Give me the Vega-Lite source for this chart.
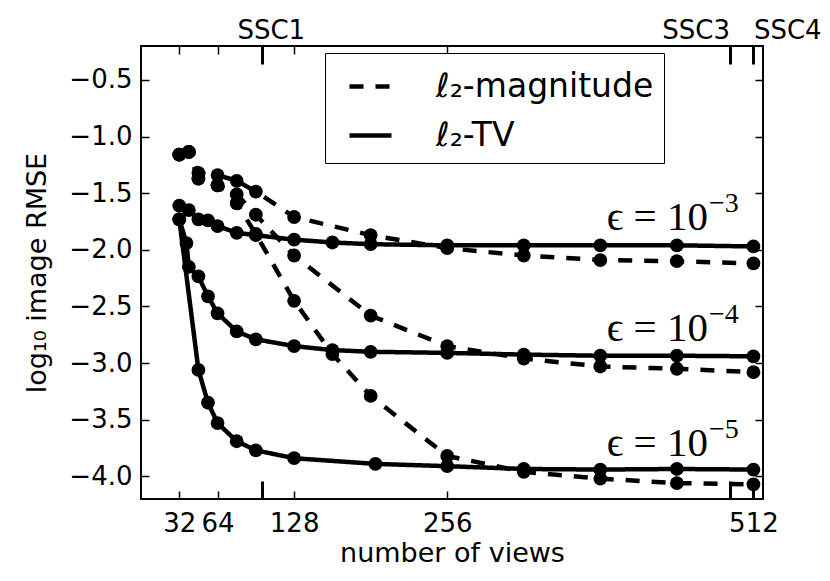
{
  "$schema": "https://vega.github.io/schema/vega-lite/v6.json",
  "description": "RMSE against number of views, l2-magnitude vs l2-TV",
  "width": 622,
  "height": 453,
  "autosize": {"type": "none"},
  "padding": {"left": 141, "top": 46, "right": 67, "bottom": 82},
  "config": {
    "font": "DejaVu Sans",
    "view": {"stroke": "black", "strokeWidth": 2},
    "axis": {
      "domain": false,
      "grid": false,
      "tickColor": "black",
      "tickWidth": 1.5,
      "labelColor": "black",
      "titleColor": "black",
      "labelFont": "DejaVu Sans",
      "titleFont": "DejaVu Sans",
      "labelFontSize": 26,
      "titleFontSize": 27,
      "titleFontWeight": "normal",
      "labelOverlap": false,
      "labelFlush": false
    }
  },
  "datasets": {
    "runs": [
      {"m": "ℓ₂-magnitude", "eps": "1e-3", "views": 32, "rmse": -1.16},
      {"m": "ℓ₂-magnitude", "eps": "1e-3", "views": 40, "rmse": -1.135},
      {"m": "ℓ₂-magnitude", "eps": "1e-3", "views": 48, "rmse": -1.32},
      {"m": "ℓ₂-magnitude", "eps": "1e-3", "views": 64, "rmse": -1.34},
      {"m": "ℓ₂-magnitude", "eps": "1e-3", "views": 80, "rmse": -1.39},
      {"m": "ℓ₂-magnitude", "eps": "1e-3", "views": 96, "rmse": -1.485},
      {"m": "ℓ₂-magnitude", "eps": "1e-3", "views": 128, "rmse": -1.71},
      {"m": "ℓ₂-magnitude", "eps": "1e-3", "views": 192, "rmse": -1.87},
      {"m": "ℓ₂-magnitude", "eps": "1e-3", "views": 256, "rmse": -1.985},
      {"m": "ℓ₂-magnitude", "eps": "1e-3", "views": 320, "rmse": -2.05},
      {"m": "ℓ₂-magnitude", "eps": "1e-3", "views": 384, "rmse": -2.09},
      {"m": "ℓ₂-magnitude", "eps": "1e-3", "views": 448, "rmse": -2.10},
      {"m": "ℓ₂-magnitude", "eps": "1e-3", "views": 512, "rmse": -2.12},
      {"m": "ℓ₂-magnitude", "eps": "1e-4", "views": 32, "rmse": -1.16},
      {"m": "ℓ₂-magnitude", "eps": "1e-4", "views": 40, "rmse": -1.135},
      {"m": "ℓ₂-magnitude", "eps": "1e-4", "views": 48, "rmse": -1.37},
      {"m": "ℓ₂-magnitude", "eps": "1e-4", "views": 64, "rmse": -1.43},
      {"m": "ℓ₂-magnitude", "eps": "1e-4", "views": 80, "rmse": -1.51},
      {"m": "ℓ₂-magnitude", "eps": "1e-4", "views": 96, "rmse": -1.69},
      {"m": "ℓ₂-magnitude", "eps": "1e-4", "views": 128, "rmse": -2.05},
      {"m": "ℓ₂-magnitude", "eps": "1e-4", "views": 192, "rmse": -2.58},
      {"m": "ℓ₂-magnitude", "eps": "1e-4", "views": 256, "rmse": -2.85},
      {"m": "ℓ₂-magnitude", "eps": "1e-4", "views": 320, "rmse": -2.96},
      {"m": "ℓ₂-magnitude", "eps": "1e-4", "views": 384, "rmse": -3.03},
      {"m": "ℓ₂-magnitude", "eps": "1e-4", "views": 448, "rmse": -3.05},
      {"m": "ℓ₂-magnitude", "eps": "1e-4", "views": 512, "rmse": -3.08},
      {"m": "ℓ₂-magnitude", "eps": "1e-5", "views": 32, "rmse": -1.16},
      {"m": "ℓ₂-magnitude", "eps": "1e-5", "views": 40, "rmse": -1.135},
      {"m": "ℓ₂-magnitude", "eps": "1e-5", "views": 48, "rmse": -1.37},
      {"m": "ℓ₂-magnitude", "eps": "1e-5", "views": 64, "rmse": -1.43},
      {"m": "ℓ₂-magnitude", "eps": "1e-5", "views": 80, "rmse": -1.59},
      {"m": "ℓ₂-magnitude", "eps": "1e-5", "views": 96, "rmse": -1.86},
      {"m": "ℓ₂-magnitude", "eps": "1e-5", "views": 128, "rmse": -2.45},
      {"m": "ℓ₂-magnitude", "eps": "1e-5", "views": 160, "rmse": -2.92},
      {"m": "ℓ₂-magnitude", "eps": "1e-5", "views": 192, "rmse": -3.29},
      {"m": "ℓ₂-magnitude", "eps": "1e-5", "views": 256, "rmse": -3.82},
      {"m": "ℓ₂-magnitude", "eps": "1e-5", "views": 320, "rmse": -3.96},
      {"m": "ℓ₂-magnitude", "eps": "1e-5", "views": 384, "rmse": -4.02},
      {"m": "ℓ₂-magnitude", "eps": "1e-5", "views": 448, "rmse": -4.06},
      {"m": "ℓ₂-magnitude", "eps": "1e-5", "views": 512, "rmse": -4.07},
      {"m": "ℓ₂-TV", "eps": "1e-3", "views": 32, "rmse": -1.61},
      {"m": "ℓ₂-TV", "eps": "1e-3", "views": 40, "rmse": -1.65},
      {"m": "ℓ₂-TV", "eps": "1e-3", "views": 48, "rmse": -1.73},
      {"m": "ℓ₂-TV", "eps": "1e-3", "views": 56, "rmse": -1.74},
      {"m": "ℓ₂-TV", "eps": "1e-3", "views": 64, "rmse": -1.79},
      {"m": "ℓ₂-TV", "eps": "1e-3", "views": 80, "rmse": -1.85},
      {"m": "ℓ₂-TV", "eps": "1e-3", "views": 96, "rmse": -1.87},
      {"m": "ℓ₂-TV", "eps": "1e-3", "views": 128, "rmse": -1.91},
      {"m": "ℓ₂-TV", "eps": "1e-3", "views": 160, "rmse": -1.935},
      {"m": "ℓ₂-TV", "eps": "1e-3", "views": 192, "rmse": -1.95},
      {"m": "ℓ₂-TV", "eps": "1e-3", "views": 256, "rmse": -1.96},
      {"m": "ℓ₂-TV", "eps": "1e-3", "views": 320, "rmse": -1.96},
      {"m": "ℓ₂-TV", "eps": "1e-3", "views": 384, "rmse": -1.96},
      {"m": "ℓ₂-TV", "eps": "1e-3", "views": 448, "rmse": -1.96},
      {"m": "ℓ₂-TV", "eps": "1e-3", "views": 512, "rmse": -1.97},
      {"m": "ℓ₂-TV", "eps": "1e-4", "views": 32, "rmse": -1.73},
      {"m": "ℓ₂-TV", "eps": "1e-4", "views": 38, "rmse": -1.94},
      {"m": "ℓ₂-TV", "eps": "1e-4", "views": 40, "rmse": -2.15},
      {"m": "ℓ₂-TV", "eps": "1e-4", "views": 48, "rmse": -2.235},
      {"m": "ℓ₂-TV", "eps": "1e-4", "views": 56, "rmse": -2.41},
      {"m": "ℓ₂-TV", "eps": "1e-4", "views": 64, "rmse": -2.56},
      {"m": "ℓ₂-TV", "eps": "1e-4", "views": 80, "rmse": -2.72},
      {"m": "ℓ₂-TV", "eps": "1e-4", "views": 96, "rmse": -2.79},
      {"m": "ℓ₂-TV", "eps": "1e-4", "views": 128, "rmse": -2.85},
      {"m": "ℓ₂-TV", "eps": "1e-4", "views": 160, "rmse": -2.885},
      {"m": "ℓ₂-TV", "eps": "1e-4", "views": 192, "rmse": -2.90},
      {"m": "ℓ₂-TV", "eps": "1e-4", "views": 256, "rmse": -2.91},
      {"m": "ℓ₂-TV", "eps": "1e-4", "views": 320, "rmse": -2.925},
      {"m": "ℓ₂-TV", "eps": "1e-4", "views": 384, "rmse": -2.935},
      {"m": "ℓ₂-TV", "eps": "1e-4", "views": 448, "rmse": -2.935},
      {"m": "ℓ₂-TV", "eps": "1e-4", "views": 512, "rmse": -2.94},
      {"m": "ℓ₂-TV", "eps": "1e-5", "views": 32, "rmse": -1.73},
      {"m": "ℓ₂-TV", "eps": "1e-5", "views": 48, "rmse": -3.06},
      {"m": "ℓ₂-TV", "eps": "1e-5", "views": 56, "rmse": -3.35},
      {"m": "ℓ₂-TV", "eps": "1e-5", "views": 64, "rmse": -3.53},
      {"m": "ℓ₂-TV", "eps": "1e-5", "views": 80, "rmse": -3.69},
      {"m": "ℓ₂-TV", "eps": "1e-5", "views": 96, "rmse": -3.77},
      {"m": "ℓ₂-TV", "eps": "1e-5", "views": 128, "rmse": -3.84},
      {"m": "ℓ₂-TV", "eps": "1e-5", "views": 196, "rmse": -3.89},
      {"m": "ℓ₂-TV", "eps": "1e-5", "views": 256, "rmse": -3.91},
      {"m": "ℓ₂-TV", "eps": "1e-5", "views": 320, "rmse": -3.935},
      {"m": "ℓ₂-TV", "eps": "1e-5", "views": 384, "rmse": -3.94},
      {"m": "ℓ₂-TV", "eps": "1e-5", "views": 448, "rmse": -3.935},
      {"m": "ℓ₂-TV", "eps": "1e-5", "views": 512, "rmse": -3.94}
    ],
    "notes": [
      {"views": 474, "rmse": -1.823, "sup": "−3"},
      {"views": 474, "rmse": -2.808, "sup": "−4"},
      {"views": 474, "rmse": -3.82, "sup": "−5"}
    ]
  },
  "layer": [
    {
      "mark": {"type": "rule", "color": "black", "strokeWidth": 2, "strokeDash": [14, 13]},
      "encoding": {
        "y": {"datum": -1.3, "type": "quantitative", "scale": {"domain": [-4.2, -0.2], "nice": false, "zero": false}, "axis": null}
      }
    },
    {
      "data": {"name": "runs"},
      "mark": {"type": "line", "color": "black", "strokeWidth": 4.5},
      "encoding": {
        "x": {
          "field": "views", "type": "quantitative",
          "scale": {"domain": [0, 520], "nice": false, "zero": false},
          "axis": {
            "orient": "top",
            "title": null,
            "values": [32, 64, 101, 128, 256, 492, 512],
            "labelExpr": "datum.value == 101 ? 'SSC1' : datum.value == 492 ? 'SSC3' : datum.value == 512 ? 'SSC4' : ''",
            "tickSize": {"condition": {"test": "datum.value == 101 || datum.value == 492 || datum.value == 512", "value": -18}, "value": -8},
            "tickWidth": {"condition": {"test": "datum.value == 101 || datum.value == 492 || datum.value == 512", "value": 3}, "value": 1.5},
            "labelAlign": {"condition": [{"test": "datum.value == 492", "value": "right"}, {"test": "datum.value == 512", "value": "left"}], "value": "center"},
            "labelOffset": {"condition": {"test": "datum.value == 101", "value": 9}, "value": 0},
            "labelPadding": 21
          }
        },
        "y": {
          "field": "rmse", "type": "quantitative",
          "scale": {"domain": [-4.2, -0.2], "nice": false, "zero": false},
          "axis": {"orient": "right", "title": null, "labels": false, "values": [-4, -3.5, -3, -2.5, -2, -1.5, -1, -0.5], "tickSize": -8}
        },
        "detail": {"field": "eps"},
        "strokeDash": {
          "field": "m", "type": "nominal",
          "scale": {"domain": ["ℓ₂-magnitude", "ℓ₂-TV"], "range": [[14, 12], [1, 0]]},
          "legend": {
            "title": null,
            "orient": "none",
            "legendX": 184,
            "legendY": 7,
            "direction": "vertical",
            "strokeColor": "black",
            "fillColor": "white",
            "padding": 10,
            "rowPadding": 8,
            "symbolType": "stroke",
            "symbolSize": 1764,
            "symbolStrokeWidth": 4.5,
            "symbolStrokeColor": "black",
            "symbolOffset": 12,
            "labelOffset": 42,
            "labelFont": "DejaVu Sans",
            "labelFontSize": 33,
            "labelColor": "black",
            "labelLimit": 400
          }
        }
      }
    },
    {
      "data": {"name": "runs"},
      "mark": {"type": "point", "shape": "circle", "filled": true, "color": "black", "opacity": 1, "size": 190},
      "encoding": {
        "x": {
          "field": "views", "type": "quantitative",
          "axis": {
            "orient": "bottom",
            "title": "number of views",
            "values": [32, 64, 101, 128, 256, 492, 512],
            "format": "d",
            "labelExpr": "datum.value == 101 || datum.value == 492 ? '' : datum.label",
            "tickSize": {"condition": {"test": "datum.value == 101 || datum.value == 492 || datum.value == 512", "value": -18}, "value": -8},
            "tickWidth": {"condition": {"test": "datum.value == 101 || datum.value == 492 || datum.value == 512", "value": 3}, "value": 1.5},
            "labelPadding": {"condition": {"test": "datum.value == 512", "value": 29}, "value": 19},
            "titleX": 311,
            "titleY": 54,
            "titleBaseline": "middle"
          }
        },
        "y": {
          "field": "rmse", "type": "quantitative",
          "axis": {
            "orient": "left",
            "title": "log₁₀ image RMSE",
            "values": [-4, -3.5, -3, -2.5, -2, -1.5, -1, -0.5],
            "format": ".1f",
            "tickSize": -8,
            "labelPadding": 17,
            "titleX": -104,
            "titleY": 226.5,
            "titleAngle": -90,
            "titleAlign": "center",
            "titleBaseline": "middle"
          }
        }
      }
    },
    {
      "data": {"name": "notes"},
      "mark": {"type": "text", "text": "ϵ = 10", "align": "right", "baseline": "alphabetic", "font": "Liberation Serif, DejaVu Serif", "fontSize": 41, "color": "black"},
      "encoding": {
        "x": {"field": "views", "type": "quantitative", "axis": null},
        "y": {"field": "rmse", "type": "quantitative", "axis": null}
      }
    },
    {
      "data": {"name": "notes"},
      "mark": {"type": "text", "align": "left", "baseline": "alphabetic", "dx": 1, "dy": -18, "font": "Liberation Serif, DejaVu Serif", "fontSize": 28, "color": "black"},
      "encoding": {
        "x": {"field": "views", "type": "quantitative", "axis": null},
        "y": {"field": "rmse", "type": "quantitative", "axis": null},
        "text": {"field": "sup"}
      }
    }
  ]
}
